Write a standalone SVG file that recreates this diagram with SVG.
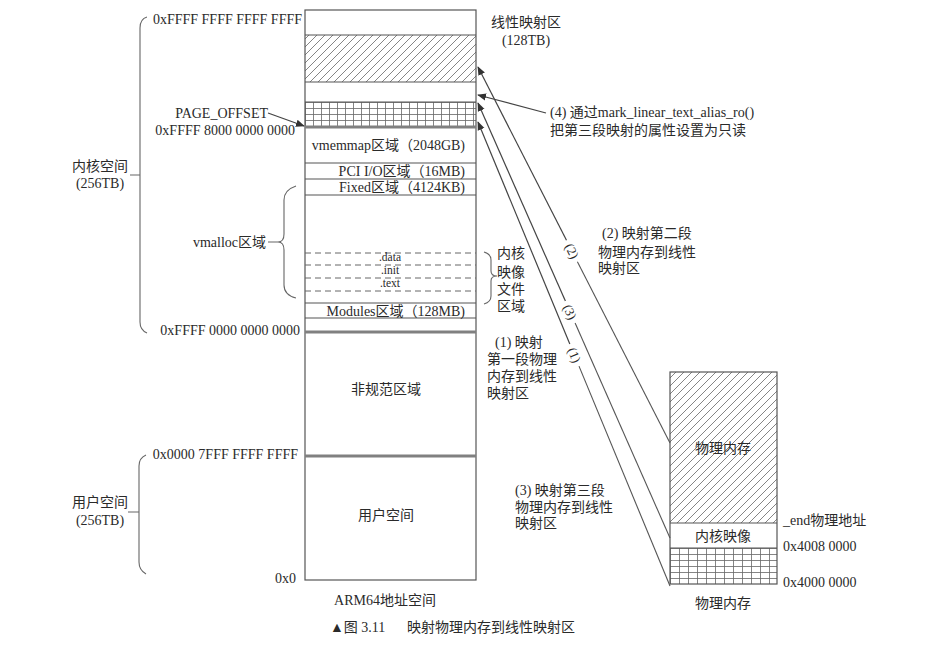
<svg xmlns="http://www.w3.org/2000/svg" width="946" height="646" viewBox="0 0 946 646">
<defs>
<style>
text{font-family:"Liberation Serif","Noto Sans CJK SC",serif;font-size:14px;fill:#2a2a2a}
.box{fill:none;stroke:#555;stroke-width:1.2}
.ln{fill:none;stroke:#555;stroke-width:1.1}
.thick{stroke:#808080;stroke-width:3}
.dash{stroke:#666;stroke-width:1;stroke-dasharray:6 4}
.brace{fill:none;stroke:#666;stroke-width:1.1}
.arr{fill:none;stroke:#444;stroke-width:1.2;marker-end:url(#ah)}
.mid{text-anchor:middle}
.end{text-anchor:end}
.sec{font-size:11.5px;text-anchor:middle}
.lbl{font-size:13px;text-anchor:middle;dominant-baseline:central}
</style>
<marker id="ah" viewBox="0 0 10 10" refX="9" refY="5" markerWidth="9" markerHeight="9" orient="auto" markerUnits="userSpaceOnUse">
<path d="M0,1 L10,5 L0,9 Z" fill="#333"/>
</marker>
<pattern id="hatch" patternUnits="userSpaceOnUse" width="8" height="8">
<path d="M-2,2 L2,-2 M0,8 L8,0 M6,10 L10,6" stroke="#666" stroke-width="0.8"/>
</pattern>
<pattern id="grid" patternUnits="userSpaceOnUse" width="8" height="6" x="305" y="102">
<path d="M0,0.5 H8 M0.5,0 V6" stroke="#666" stroke-width="0.8"/>
</pattern>
<pattern id="grid2" patternUnits="userSpaceOnUse" width="9" height="6" x="670" y="548">
<path d="M0,0.5 H9 M0.5,0 V6" stroke="#666" stroke-width="0.8"/>
</pattern>
</defs>
<rect width="946" height="646" fill="#fff"/>

<g id="arm64-space">
<rect x="305" y="35" width="171" height="47" fill="url(#hatch)"/>
<rect x="305" y="102" width="171" height="25" fill="url(#grid)"/>
<rect class="box" x="305" y="10" width="171" height="570"/>
<line class="ln" x1="305" y1="35" x2="476" y2="35"/>
<line class="ln" x1="305" y1="82" x2="476" y2="82"/>
<line class="ln" x1="305" y1="102" x2="476" y2="102"/>
<line class="thick" x1="305" y1="127" x2="476" y2="127"/>
<line class="ln" x1="305" y1="163" x2="476" y2="163"/>
<line class="ln" x1="305" y1="179" x2="476" y2="179"/>
<line class="ln" x1="305" y1="195" x2="476" y2="195"/>
<line class="dash" x1="305" y1="253" x2="476" y2="253"/>
<line class="dash" x1="305" y1="265" x2="476" y2="265"/>
<line class="dash" x1="305" y1="278" x2="476" y2="278"/>
<line class="dash" x1="305" y1="291" x2="476" y2="291"/>
<line class="ln" x1="305" y1="303" x2="476" y2="303"/>
<line class="ln" x1="305" y1="318" x2="476" y2="318"/>
<line class="thick" x1="305" y1="332" x2="476" y2="332"/>
<line class="thick" x1="305" y1="456" x2="476" y2="456"/>
<text class="end" x="465" y="150">vmemmap区域（2048GB)</text>
<text class="end" x="465" y="176">PCI I/O区域（16MB)</text>
<text class="end" x="465" y="192">Fixed区域（4124KB)</text>
<text class="sec" x="390" y="261">.data</text>
<text class="sec" x="390" y="274">.init</text>
<text class="sec" x="390" y="287">.text</text>
<text class="end" x="465" y="316">Modules区域（128MB)</text>
<text class="mid" x="386" y="394">非规范区域</text>
<text class="mid" x="386" y="520">用户空间</text>
<text class="mid" x="385" y="605">ARM64地址空间</text>
</g>

<g id="address-labels">
<text class="end" x="302" y="24">0xFFFF FFFF FFFF FFFF</text>
<text class="end" x="268" y="118">PAGE_OFFSET</text>
<text class="end" x="295" y="135">0xFFFF 8000 0000 0000</text>
<text class="end" x="300" y="335">0xFFFF 0000 0000 0000</text>
<text class="end" x="298" y="459">0x0000 7FFF FFFF FFFF</text>
<text class="end" x="296" y="583">0x0</text>
</g>

<g id="kernel-space-brace">
<path class="brace" d="M147,17 Q140,19 140,28 V322 Q140,330 147,333 M130,175 H140"/>
<text class="mid" x="100" y="171">内核空间</text>
<text class="mid" x="100" y="188">(256TB)</text>
</g>

<g id="user-space-brace">
<path class="brace" d="M146,455 Q139,458 139,466 V562 Q139,570 146,574 M128,512 H139"/>
<text class="mid" x="100" y="507">用户空间</text>
<text class="mid" x="100" y="525">(256TB)</text>
</g>

<g id="vmalloc-brace">
<path class="brace" d="M296,186 Q284,190 284,200 V234 Q284,242 278,242 Q284,242 284,250 V285 Q284,295 296,298 M268,242 H278"/>
<text class="end" x="266" y="247">vmalloc区域</text>
</g>

<g id="kernel-image-brace">
<path class="brace" d="M484,252 Q491,254 491,260 V271 Q491,276 497,276 Q491,276 491,281 V296 Q491,302 484,304"/>
<text x="497" y="258">内核</text>
<text x="497" y="277">映像</text>
<text x="497" y="294">文件</text>
<text x="497" y="311">区域</text>
</g>

<g id="linear-map-label">
<text class="mid" x="526" y="27">线性映射区</text>
<text class="mid" x="526" y="45">(128TB)</text>
</g>

<g id="physical-memory">
<rect x="670" y="372" width="107" height="151" fill="url(#hatch)"/>
<rect x="670" y="548" width="107" height="36" fill="url(#grid2)"/>
<rect class="box" x="670" y="372" width="107" height="212"/>
<line class="ln" x1="670" y1="523" x2="777" y2="523"/>
<line class="ln" x1="670" y1="548" x2="777" y2="548"/>
<text class="mid" x="723" y="453">物理内存</text>
<text class="mid" x="723" y="541">内核映像</text>
<text class="mid" x="723" y="608">物理内存</text>
<text x="783" y="525">_end物理地址</text>
<text x="783" y="551">0x4008 0000</text>
<text x="783" y="587">0x4000 0000</text>
</g>

<g id="notes">
<text x="550" y="117">(4) 通过mark_linear_text_alias_ro()</text>
<text x="550" y="135">把第三段映射的属性设置为只读</text>
<text x="602" y="238">(2) 映射第二段</text>
<text x="598" y="257">物理内存到线性</text>
<text x="598" y="273">映射区</text>
<text x="495" y="347">(1) 映射</text>
<text x="487" y="364">第一段物理</text>
<text x="487" y="381">内存到线性</text>
<text x="487" y="398">映射区</text>
<text x="515" y="495">(3) 映射第三段</text>
<text x="515" y="512">物理内存到线性</text>
<text x="515" y="528">映射区</text>
</g>

<g id="connectors">
<path class="arr" d="M268,113 L304,126"/>
<path class="arr" d="M546,113 L478,95"/>
<path class="ln" d="M670,443 L577.4,261.7"/>
<path class="arr" d="M566.5,240.3 L478,67"/>
<text class="lbl" transform="translate(572,251) rotate(63)">(2)</text>
<path class="ln" d="M670,538 L575.1,323"/>
<path class="arr" d="M565.4,301.1 L478,103"/>
<text class="lbl" transform="translate(570,312) rotate(66)">(3)</text>
<path class="ln" d="M670,586 L579,366.1"/>
<path class="arr" d="M569.8,343.9 L478,122"/>
<text class="lbl" transform="translate(574.5,355) rotate(67.5)">(1)</text>
</g>

<g id="caption">
<text x="330" y="632" font-size="16">▲图 3.11</text>
<text x="407" y="632" font-size="16">映射物理内存到线性映射区</text>
</g>
</svg>
